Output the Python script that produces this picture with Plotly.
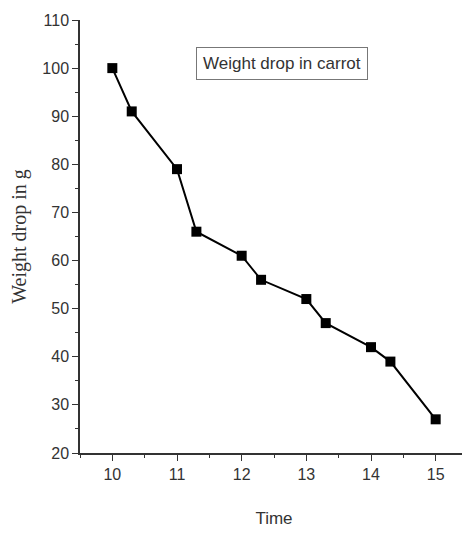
import plotly.graph_objects as go

time = [10, 10.3, 11, 11.3, 12, 12.3, 13, 13.3, 14, 14.3, 15]
weight = [100, 91, 79, 66, 61, 56, 52, 47, 42, 39, 27]
x_ticks = [10, 11, 12, 13, 14, 15]
y_ticks = [20, 30, 40, 50, 60, 70, 80, 90, 100, 110]

sans = "Liberation Sans Narrow, Liberation Sans, Arial"

fig = go.Figure()
fig.add_trace(go.Scatter(
    x=time, y=weight, mode="lines+markers",
    line=dict(color="black", width=2),
    marker=dict(symbol="square", size=10, color="black"),
    showlegend=False,
))

fig.add_annotation(
    text="Weight drop in carrot", xref="paper", yref="paper",
    x=0.52, y=0.90, xanchor="center", yanchor="middle", showarrow=False,
    font=dict(family=sans, size=17, color="#333"),
    bordercolor="#777", borderwidth=1, borderpad=6, bgcolor="white",
)

fig.update_layout(
    width=462, height=530,
    margin=dict(l=72, r=2, t=12, b=85),
    plot_bgcolor="white", paper_bgcolor="white",
    xaxis=dict(
        range=[9.5, 15.5], tickvals=x_ticks, ticks="outside", ticklen=6,
        tickcolor="#333", showline=True, linecolor="#333", linewidth=1.5,
        showgrid=False, zeroline=False, automargin=False,
        tickfont=dict(family=sans, size=16, color="#333"),
        minor=dict(dtick=0.5, tick0=9.5, ticks="outside", ticklen=3, tickcolor="#333"),
        title=dict(text="Time", font=dict(family=sans, size=17, color="#333"), standoff=30),
    ),
    yaxis=dict(
        range=[20, 110], tickvals=y_ticks, ticks="outside", ticklen=6,
        tickcolor="#333", showline=True, linecolor="#333", linewidth=1.5,
        showgrid=False, zeroline=False, automargin=False,
        tickfont=dict(family=sans, size=16, color="#333"),
        minor=dict(dtick=5, tick0=20, ticks="outside", ticklen=3, tickcolor="#333"),
        title=dict(text="Weight drop in g", font=dict(family="Liberation Serif, Times New Roman", size=20, color="#333"), standoff=10),
    ),
)

fig.write_html("out.html")
